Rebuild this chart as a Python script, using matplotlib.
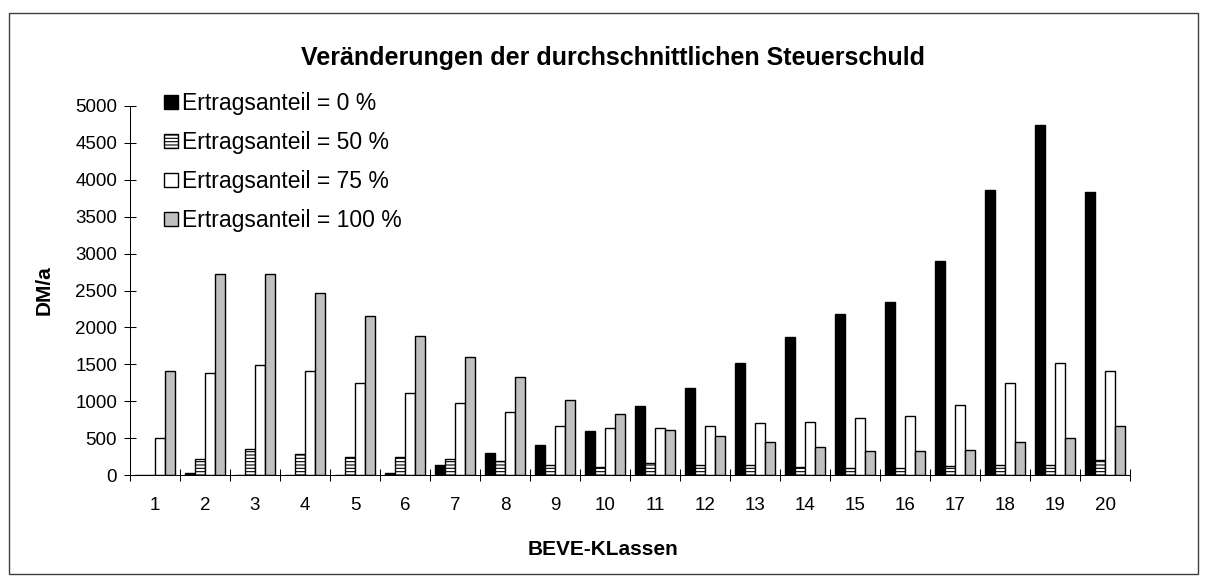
import numpy as np
import matplotlib
matplotlib.use('Agg')
import matplotlib.pyplot as plt
from matplotlib.patches import Rectangle

plt.rcParams['font.family'] = ['Liberation Sans', 'DejaVu Sans']
plt.rcParams['hatch.linewidth'] = 0.8

# Daten (DM/a)
klassen = list(range(1, 21))
anteil_0 = [0, 30, 0, 0, 0, 30, 140, 300, 405, 590, 935, 1175, 1520, 1865,
            2185, 2350, 2900, 3860, 4740, 3830]
anteil_50 = [0, 215, 350, 290, 245, 245, 215, 195, 135, 110, 165, 135, 135,
             115, 90, 90, 120, 140, 140, 200]
anteil_75 = [505, 1385, 1495, 1405, 1250, 1115, 980, 855, 665, 640, 640, 665,
             700, 720, 775, 795, 955, 1250, 1520, 1410]
anteil_100 = [1405, 2730, 2730, 2460, 2150, 1890, 1600, 1330, 1015, 825, 615,
              530, 450, 375, 325, 325, 345, 450, 505, 665]
legenden = ['Ertragsanteil = 0 %', 'Ertragsanteil = 50 %',
            'Ertragsanteil = 75 %', 'Ertragsanteil = 100 %']

W, H = 1206, 576
fig = plt.figure(figsize=(W / 100, H / 100), dpi=100)
ax = fig.add_axes([130 / W, (H - 475) / H, 1000 / W, (475 - 106) / H])

# Balken: schwarz, waagerecht schraffiert, weiss, grau
stile = [('black', ''), ('white', '-----'), ('white', ''), ('#c0c0c0', '')]
x = np.arange(1, len(klassen) + 1)
bw = 0.2
for i, (werte, (farbe, hatch), name) in enumerate(zip(
        [anteil_0, anteil_50, anteil_75, anteil_100], stile, legenden)):
    ax.bar(x + (i - 1.5) * bw, werte, width=bw, color=farbe,
           edgecolor='black', linewidth=1.0, hatch=hatch, label=name)

ax.set_xlim(0.5, len(klassen) + 0.5)
ax.set_ylim(0, 5000)
ax.set_yticks(np.arange(0, 5001, 500))
ax.set_xticks(x)
ax.set_xticklabels([str(k) for k in klassen])
ax.set_xticks(np.arange(0.5, len(klassen) + 1, 1), minor=True)

ax.tick_params(axis='x', which='major', length=0, pad=16, labelsize=13.5)
ax.tick_params(axis='x', which='minor', direction='inout', length=8.6, width=0.75)
ax.tick_params(axis='y', direction='inout', length=8.6, width=0.75, pad=5,
               labelsize=13.5)
for s in ['top', 'right']:
    ax.spines[s].set_visible(False)
for s in ['left', 'bottom']:
    ax.spines[s].set_linewidth(0.75)

ax.legend(loc='upper left', bbox_to_anchor=(164 / W, 1 - 92 / H),
          bbox_transform=fig.transFigure, frameon=False, fontsize=16.5,
          handlelength=0.62, handleheight=0.62, handletextpad=0.15,
          labelspacing=0.7, borderpad=0, borderaxespad=0)

# Titel und Achsenbeschriftungen
fig.text(613 / W, 1 - 65 / H, 'Veränderungen der durchschnittlichen Steuerschuld',
         ha='center', va='baseline', fontsize=18, fontweight='bold')
fig.text(603 / W, 1 - 555 / H, 'BEVE-KLassen', ha='center', va='baseline',
         fontsize=15, fontweight='bold')
fig.text(44 / W, 1 - 290 / H, 'DM/a', rotation=90, ha='center', va='center',
         fontsize=15, fontweight='bold')

# Rahmen um das Diagramm
fig.patches.append(Rectangle((8.5 / W, 1 - 574 / H), 1189 / W, 561.5 / H,
                             transform=fig.transFigure, fill=False,
                             edgecolor='#404040', linewidth=1))

fig.savefig('out.png', dpi=100)
